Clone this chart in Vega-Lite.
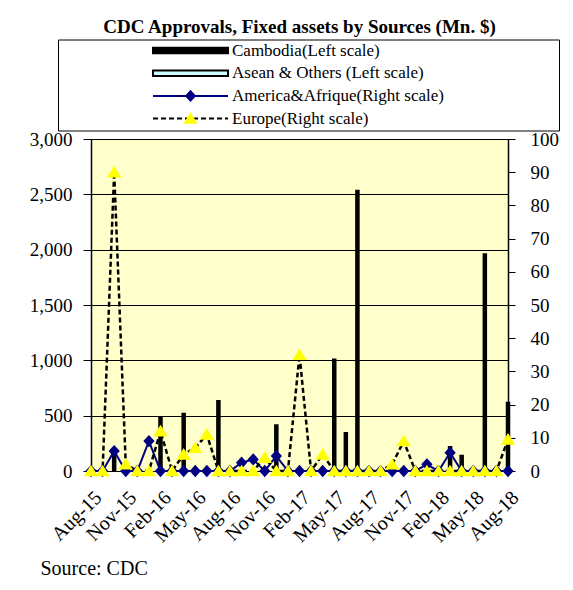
{
  "$schema": "https://vega.github.io/schema/vega-lite/v6.json",
  "width": 417,
  "height": 332,
  "autosize": {"type": "none"},
  "padding": {"left": 91, "top": 139, "right": 65, "bottom": 119},
  "background": "#ffffff",
  "config": {
    "font": "Liberation Serif",
    "view": {"fill": "#FFFFCC", "stroke": "#808080", "strokeWidth": 1},
    "axis": {"labelFont": "Liberation Serif", "labelFontSize": 19, "labelColor": "#000000", "domainColor": "#000000", "tickColor": "#000000", "titleFont": "Liberation Serif", "titleColor": "#000000"},
    "legend": {"labelFont": "Liberation Serif"}
  },
  "title": {"text": "CDC Approvals, Fixed assets by Sources (Mn. $)", "font": "Liberation Serif", "fontSize": 19, "fontWeight": "bold", "color": "#000000", "anchor": "middle", "frame": "group", "offset": -13, "baseline": "alphabetic"},
  "data": {"values": [
    {"month": "Aug-15", "series": "C", "value": 0},
    {"month": "Sep-15", "series": "C", "value": 0},
    {"month": "Oct-15", "series": "C", "value": 150},
    {"month": "Nov-15", "series": "C", "value": 0},
    {"month": "Dec-15", "series": "C", "value": 0},
    {"month": "Jan-16", "series": "C", "value": 0},
    {"month": "Feb-16", "series": "C", "value": 490},
    {"month": "Mar-16", "series": "C", "value": 0},
    {"month": "Apr-16", "series": "C", "value": 520},
    {"month": "May-16", "series": "C", "value": 0},
    {"month": "Jun-16", "series": "C", "value": 0},
    {"month": "Jul-16", "series": "C", "value": 635},
    {"month": "Aug-16", "series": "C", "value": 0},
    {"month": "Sep-16", "series": "C", "value": 0},
    {"month": "Oct-16", "series": "C", "value": 0},
    {"month": "Nov-16", "series": "C", "value": 0},
    {"month": "Dec-16", "series": "C", "value": 415},
    {"month": "Jan-17", "series": "C", "value": 0},
    {"month": "Feb-17", "series": "C", "value": 0},
    {"month": "Mar-17", "series": "C", "value": 0},
    {"month": "Apr-17", "series": "C", "value": 0},
    {"month": "May-17", "series": "C", "value": 1010},
    {"month": "Jun-17", "series": "C", "value": 345},
    {"month": "Jul-17", "series": "C", "value": 2535},
    {"month": "Aug-17", "series": "C", "value": 0},
    {"month": "Sep-17", "series": "C", "value": 0},
    {"month": "Oct-17", "series": "C", "value": 0},
    {"month": "Nov-17", "series": "C", "value": 0},
    {"month": "Dec-17", "series": "C", "value": 0},
    {"month": "Jan-18", "series": "C", "value": 0},
    {"month": "Feb-18", "series": "C", "value": 0},
    {"month": "Mar-18", "series": "C", "value": 220},
    {"month": "Apr-18", "series": "C", "value": 140},
    {"month": "May-18", "series": "C", "value": 0},
    {"month": "Jun-18", "series": "C", "value": 1960},
    {"month": "Jul-18", "series": "C", "value": 0},
    {"month": "Aug-18", "series": "C", "value": 620},
    {"month": "Aug-15", "series": "A", "value": 0},
    {"month": "Sep-15", "series": "A", "value": 0},
    {"month": "Oct-15", "series": "A", "value": 6},
    {"month": "Nov-15", "series": "A", "value": 0},
    {"month": "Dec-15", "series": "A", "value": 0},
    {"month": "Jan-16", "series": "A", "value": 9},
    {"month": "Feb-16", "series": "A", "value": 0},
    {"month": "Mar-16", "series": "A", "value": 0},
    {"month": "Apr-16", "series": "A", "value": 0},
    {"month": "May-16", "series": "A", "value": 0},
    {"month": "Jun-16", "series": "A", "value": 0},
    {"month": "Jul-16", "series": "A", "value": 0},
    {"month": "Aug-16", "series": "A", "value": 0},
    {"month": "Sep-16", "series": "A", "value": 2.5},
    {"month": "Oct-16", "series": "A", "value": 3.5},
    {"month": "Nov-16", "series": "A", "value": 0},
    {"month": "Dec-16", "series": "A", "value": 4.5},
    {"month": "Jan-17", "series": "A", "value": 0},
    {"month": "Feb-17", "series": "A", "value": 0},
    {"month": "Mar-17", "series": "A", "value": 0},
    {"month": "Apr-17", "series": "A", "value": 0},
    {"month": "May-17", "series": "A", "value": 0},
    {"month": "Jun-17", "series": "A", "value": 0},
    {"month": "Jul-17", "series": "A", "value": 0},
    {"month": "Aug-17", "series": "A", "value": 0},
    {"month": "Sep-17", "series": "A", "value": 0},
    {"month": "Oct-17", "series": "A", "value": 0},
    {"month": "Nov-17", "series": "A", "value": 0},
    {"month": "Dec-17", "series": "A", "value": 0},
    {"month": "Jan-18", "series": "A", "value": 2},
    {"month": "Feb-18", "series": "A", "value": 0},
    {"month": "Mar-18", "series": "A", "value": 5.5},
    {"month": "Apr-18", "series": "A", "value": 0},
    {"month": "May-18", "series": "A", "value": 0},
    {"month": "Jun-18", "series": "A", "value": 0},
    {"month": "Jul-18", "series": "A", "value": 0},
    {"month": "Aug-18", "series": "A", "value": 0},
    {"month": "Aug-15", "series": "E", "value": 0},
    {"month": "Sep-15", "series": "E", "value": 0},
    {"month": "Oct-15", "series": "E", "value": 90},
    {"month": "Nov-15", "series": "E", "value": 2},
    {"month": "Dec-15", "series": "E", "value": 0},
    {"month": "Jan-16", "series": "E", "value": 0},
    {"month": "Feb-16", "series": "E", "value": 12},
    {"month": "Mar-16", "series": "E", "value": 0},
    {"month": "Apr-16", "series": "E", "value": 5},
    {"month": "May-16", "series": "E", "value": 7},
    {"month": "Jun-16", "series": "E", "value": 11},
    {"month": "Jul-16", "series": "E", "value": 0},
    {"month": "Aug-16", "series": "E", "value": 0},
    {"month": "Sep-16", "series": "E", "value": 0},
    {"month": "Oct-16", "series": "E", "value": 0},
    {"month": "Nov-16", "series": "E", "value": 4},
    {"month": "Dec-16", "series": "E", "value": 0},
    {"month": "Jan-17", "series": "E", "value": 0},
    {"month": "Feb-17", "series": "E", "value": 35},
    {"month": "Mar-17", "series": "E", "value": 0},
    {"month": "Apr-17", "series": "E", "value": 5},
    {"month": "May-17", "series": "E", "value": 0},
    {"month": "Jun-17", "series": "E", "value": 0},
    {"month": "Jul-17", "series": "E", "value": 0},
    {"month": "Aug-17", "series": "E", "value": 0},
    {"month": "Sep-17", "series": "E", "value": 0},
    {"month": "Oct-17", "series": "E", "value": 2},
    {"month": "Nov-17", "series": "E", "value": 9},
    {"month": "Dec-17", "series": "E", "value": 0},
    {"month": "Jan-18", "series": "E", "value": 0},
    {"month": "Feb-18", "series": "E", "value": 0},
    {"month": "Mar-18", "series": "E", "value": 0},
    {"month": "Apr-18", "series": "E", "value": 0},
    {"month": "May-18", "series": "E", "value": 0},
    {"month": "Jun-18", "series": "E", "value": 0},
    {"month": "Jul-18", "series": "E", "value": 0},
    {"month": "Aug-18", "series": "E", "value": 9.5}
  ]},
  "encoding": {
    "x": {
      "field": "month", "type": "ordinal", "sort": null,
      "scale": {"type": "point", "padding": 0},
      "axis": {
        "values": ["Aug-15", "Nov-15", "Feb-16", "May-16", "Aug-16", "Nov-16", "Feb-17", "May-17", "Aug-17", "Nov-17", "Feb-18", "May-18", "Aug-18"],
        "labelAngle": -45, "labelAlign": "right", "labelBaseline": "top", "labelPadding": 16, "labelFontSize": 20,
        "labelOverlap": false, "ticks": false, "domain": true, "domainColor": "#000000", "grid": false,
        "title": "Source: CDC", "titleX": -51, "titleY": 103, "titleAlign": "left", "titleBaseline": "alphabetic",
        "titleFontSize": 20, "titleFontWeight": "normal", "titleAngle": 0
      }
    }
  },
  "layer": [
    {
      "transform": [{"filter": "datum.series === 'C'"}],
      "mark": {"type": "bar", "size": 3, "stroke": "#000000", "strokeWidth": 1.5},
      "encoding": {
        "y": {
          "field": "value", "type": "quantitative",
          "scale": {"domain": [0, 3000], "nice": false},
          "axis": {"orient": "left", "values": [0, 500, 1000, 1500, 2000, 2500, 3000], "format": ",.0f", "grid": true, "gridColor": "#000000", "gridWidth": 1, "gridOpacity": 1, "tickSize": 8, "labelPadding": 11, "title": null, "domainWidth": 1.5}
        },
        "color": {
          "datum": "Cambodia(Left scale)",
          "scale": {"domain": ["Cambodia(Left scale)", "Asean & Others (Left scale)", "America&Afrique(Right scale)", "Europe(Right scale)"], "range": ["#000000", "#CCFFFF", "transparent", "transparent"]},
          "legend": {
            "orient": "none", "legendX": -33, "legendY": -99.5, "padding": 2,
            "title": "\u00a0", "titleOrient": "right", "titlePadding": 113, "titleOpacity": 0,
            "strokeColor": "#000000", "symbolType": "M-1,-0.075H1V0.075H-1Z", "symbolSize": 5625,
            "symbolStrokeWidth": 2, "symbolOffset": 92,
            "labelOffset": 3, "clipHeight": 18, "rowPadding": 4.7, "labelFontSize": 17, "labelColor": "#000000",
            "labelLimit": 400, "zindex": 0
          }
        },
        "opacity": {
          "datum": "Cambodia(Left scale)",
          "scale": {"domain": ["Cambodia(Left scale)", "Asean & Others (Left scale)", "America&Afrique(Right scale)", "Europe(Right scale)"], "range": [4.5, -4.5]}
        }
      }
    },
    {
      "encoding": {
        "y": {
          "field": "value", "type": "quantitative",
          "scale": {"domain": [0, 100], "nice": false},
          "axis": {"orient": "right", "values": [0, 10, 20, 30, 40, 50, 60, 70, 80, 90, 100], "grid": false, "tickSize": 7, "labelPadding": 15, "title": null, "domainWidth": 1.5}
        }
      },
      "layer": [
        {
          "transform": [{"filter": "datum.series === 'A'"}],
          "mark": {"type": "line", "strokeWidth": 2},
          "encoding": {
            "stroke": {
              "datum": "America&Afrique(Right scale)",
              "scale": {"domain": ["America&Afrique(Right scale)", "Europe(Right scale)"], "range": ["#000080", "#000000"]},
              "legend": {
                "orient": "none", "legendX": -33, "legendY": -54.1, "title": null, "padding": 2,
                "symbolType": "M-1,0H1", "symbolSize": 5625, "symbolStrokeWidth": 2, "symbolFillColor": "transparent",
                "symbolOffset": 92, "labelOffset": 3, "clipHeight": 18, "rowPadding": 4.7, "labelFontSize": 17,
                "labelExpr": "'\u00a0'", "labelOpacity": 0, "zindex": 1
              }
            },
            "strokeDash": {
              "datum": "America&Afrique(Right scale)",
              "scale": {"domain": ["America&Afrique(Right scale)", "Europe(Right scale)"], "range": [[1, 0], [5, 3]]}
            }
          }
        },
        {
          "transform": [{"filter": "datum.series === 'E'"}],
          "mark": {"type": "line", "strokeWidth": 2.5},
          "encoding": {
            "stroke": {"datum": "Europe(Right scale)"},
            "strokeDash": {"datum": "Europe(Right scale)"}
          }
        },
        {
          "transform": [{"filter": "datum.series === 'A'"}],
          "mark": {"type": "point", "filled": true, "size": 5625, "opacity": 1, "strokeWidth": 0},
          "encoding": {
            "fill": {
              "datum": "America&Afrique(Right scale)",
              "scale": {"domain": ["Europe(Right scale)", "America&Afrique(Right scale)"], "range": ["#FFFF00", "#000080"]},
              "legend": {
                "orient": "none", "legendX": -33, "legendY": -54.1, "title": null, "padding": 2,
                "values": ["America&Afrique(Right scale)", "Europe(Right scale)"],
                "symbolSize": 5625, "symbolStrokeWidth": 2, "symbolStrokeColor": "transparent",
                "symbolOffset": 92, "labelOffset": 3, "clipHeight": 18, "rowPadding": 4.7, "labelFontSize": 17,
                "labelExpr": "'\u00a0'", "labelOpacity": 0, "zindex": 2
              }
            },
            "shape": {
              "datum": "America&Afrique(Right scale)",
              "scale": {"domain": ["Europe(Right scale)", "America&Afrique(Right scale)"], "range": ["M0,-0.17L0.19,0.14L-0.19,0.14Z", "M0,-0.165L0.15,0L0,0.165L-0.15,0Z"]}
            }
          }
        },
        {
          "transform": [{"filter": "datum.series === 'E'"}],
          "mark": {"type": "point", "filled": true, "size": 5625, "opacity": 1, "strokeWidth": 0},
          "encoding": {
            "fill": {"datum": "Europe(Right scale)"},
            "shape": {"datum": "Europe(Right scale)"}
          }
        }
      ]
    }
  ],
  "resolve": {"scale": {"y": "independent"}}
}
